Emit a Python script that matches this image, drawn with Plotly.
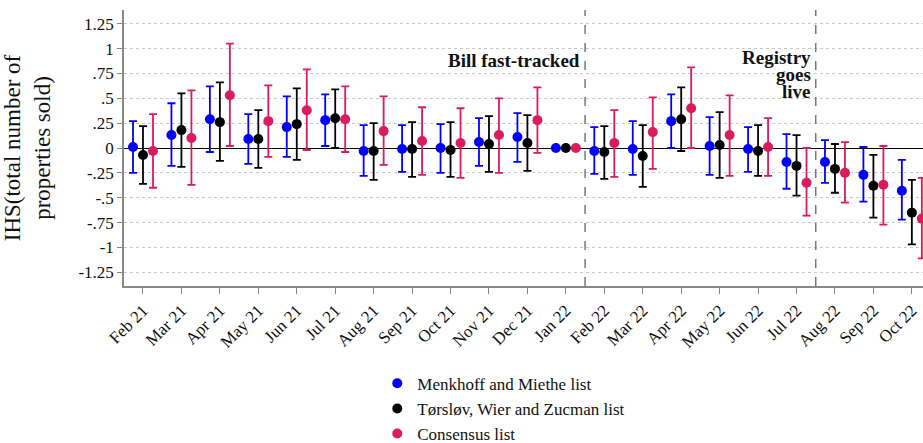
import plotly.graph_objects as go

months = ["Feb 21", "Mar 21", "Apr 21", "May 21", "Jun 21", "Jul 21", "Aug 21", "Sep 21",
          "Oct 21", "Nov 21", "Dec 21", "Jan 22", "Feb 22", "Mar 22", "Apr 22", "May 22",
          "Jun 22", "Jul 22", "Aug 22", "Sep 22", "Oct 22"]

mm_est = [0.01, 0.13, 0.29, 0.09, 0.21, 0.28, -0.03, -0.01, 0.00, 0.06, 0.11, 0.0,
          -0.03, -0.01, 0.27, 0.02, -0.01, -0.14, -0.14, -0.27, -0.43]
mm_lo = [-0.25, -0.18, -0.04, -0.16, -0.09, 0.02, -0.28, -0.24, -0.25, -0.18, -0.14, None,
         -0.26, -0.27, 0.00, -0.27, -0.24, -0.41, -0.35, -0.54, -0.72]
mm_hi = [0.27, 0.45, 0.62, 0.34, 0.52, 0.54, 0.23, 0.23, 0.24, 0.30, 0.35, None,
         0.21, 0.27, 0.54, 0.31, 0.21, 0.14, 0.08, 0.01, -0.12]

twz_est = [-0.07, 0.18, 0.26, 0.09, 0.24, 0.30, -0.03, -0.01, -0.02, 0.04, 0.05, 0.0,
           -0.04, -0.08, 0.29, 0.03, -0.03, -0.18, -0.21, -0.38, -0.65]
twz_lo = [-0.36, -0.19, -0.13, -0.20, -0.12, 0.00, -0.32, -0.29, -0.29, -0.24, -0.23, None,
          -0.31, -0.39, -0.03, -0.30, -0.28, -0.48, -0.45, -0.70, -0.97]
twz_hi = [0.22, 0.55, 0.66, 0.38, 0.60, 0.59, 0.25, 0.26, 0.26, 0.32, 0.33, None,
          0.22, 0.23, 0.61, 0.36, 0.23, 0.13, 0.04, -0.07, -0.32]

con_est = [-0.03, 0.10, 0.53, 0.27, 0.38, 0.29, 0.17, 0.07, 0.05, 0.13, 0.28, 0.0,
           0.05, 0.16, 0.40, 0.13, 0.01, -0.35, -0.25, -0.37, -0.71]
con_lo = [-0.40, -0.37, 0.02, -0.09, -0.02, -0.04, -0.17, -0.27, -0.30, -0.25, -0.05, None,
          -0.29, -0.21, 0.00, -0.28, -0.28, -0.68, -0.55, -0.77, -1.11]
con_hi = [0.34, 0.58, 1.05, 0.63, 0.79, 0.62, 0.52, 0.41, 0.40, 0.50, 0.61, None,
          0.38, 0.51, 0.81, 0.53, 0.30, 0.00, 0.06, 0.02, -0.30]

y_ticks = [1.25, 1, 0.75, 0.5, 0.25, 0, -0.25, -0.5, -0.75, -1, -1.25]
y_ticktext = ["1.25", "1", ".75", ".5", ".25", "0", "-.25", "-.5", "-.75", "-1", "-1.25"]

event_x = [11.5, 17.5]
event_lines = [["Bill fast-tracked"], ["Registry", "goes", "live"]]
event_label_y = [[0.885], [0.915, 0.744, 0.573]]

series = [
    ("Menkhoff and Miethe list", mm_est, mm_lo, mm_hi, "#0000FF", -0.26),
    ("Tørsløv, Wier and Zucman list", twz_est, twz_lo, twz_hi, "#000000", 0.0),
    ("Consensus list", con_est, con_lo, con_hi, "#DA1C5C", 0.26),
]

FONT = "'Liberation Serif', 'DejaVu Serif', serif"
fig = go.Figure()
for k, (name, est, lo, hi, col, off) in enumerate(series):
    xs = [i + off for i in range(len(months))]
    up = [None if h is None else h - e for e, h in zip(est, hi)]
    dn = [None if l is None else e - l for e, l in zip(est, lo)]
    fig.add_trace(go.Scatter(
        x=xs, y=est, mode="markers", name=name, legendgroup=f"g{k}",
        marker=dict(color=col, size=10),
        error_y=dict(type="data", symmetric=False, array=up, arrayminus=dn,
                     color=col, thickness=1.8, width=4),
    ))

for xv, lines, ys in zip(event_x, event_lines, event_label_y):
    fig.add_shape(type="line", x0=xv, x1=xv, y0=0, y1=1, xref="x", yref="paper",
                  line=dict(color="#777777", width=1.5, dash="dash"))
    for txt, yv in zip(lines, ys):
        fig.add_annotation(x=xv, y=yv, xref="x", yref="y",
                           text=f"<b>{txt}</b>", showarrow=False, xanchor="right",
                           yanchor="middle", xshift=-4, align="right", borderpad=0,
                           font=dict(family=FONT, size=19, color="#111111"))

fig.update_layout(
    width=923, height=443,
    margin=dict(l=124, r=0, t=10, b=157, autoexpand=False),
    paper_bgcolor="white", plot_bgcolor="white",
    font=dict(family=FONT, size=17, color="#111111"),
    showlegend=True,
    legend=dict(x=0.317, y=-0.289, xanchor="left", yanchor="top",
                font=dict(family=FONT, size=17), tracegroupgap=0,
                bgcolor="rgba(0,0,0,0)"),
    xaxis=dict(range=[-0.494, 20.29], tickmode="array",
               tickvals=list(range(len(months))), ticktext=months,
               tickangle=-45, ticks="outside", ticklen=6, tickcolor="#888888",
               tickwidth=1.3, showgrid=False, zeroline=False, automargin=False,
               showline=True, linecolor="#888888", linewidth=1.5,
               tickfont=dict(family=FONT, size=17)),
    yaxis=dict(range=[-1.388, 1.388], tickmode="array", tickvals=y_ticks,
               ticktext=y_ticktext, ticks="outside", ticklen=5, tickcolor="#888888",
               tickwidth=1.3, showgrid=True, gridcolor="#c8c8c8", griddash="dot",
               gridwidth=1, zeroline=True, zerolinecolor="#000000", zerolinewidth=1.3,
               showline=True, linecolor="#888888", linewidth=1.5, automargin=False,
               tickfont=dict(family=FONT, size=17),
               title=dict(text="IHS(total number of<br>properties sold)",
                          font=dict(family=FONT, size=23), standoff=22)),
)

fig.write_html("out.html", config={"displayModeBar": False},
               post_script="document.body.style.margin='0';document.body.style.overflow='hidden';")
